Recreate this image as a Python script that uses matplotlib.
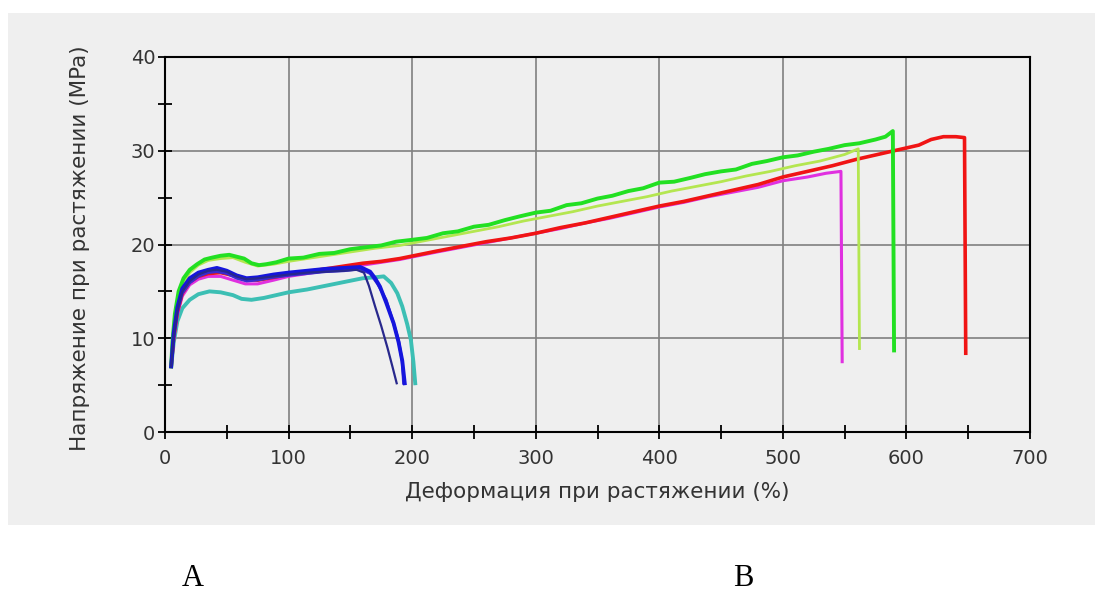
import matplotlib
matplotlib.use('Agg')
import matplotlib.pyplot as plt
from matplotlib.patches import Rectangle
from matplotlib.ticker import MultipleLocator

# strain (%) / stress (MPa) curves
green_x = [5, 6, 8, 11, 15, 20, 26, 32, 38, 45, 52, 58, 64, 70, 76, 82, 90, 100, 112, 125, 137, 150, 162, 175, 187, 200,
           212, 225, 237, 250, 262, 275, 287, 300, 312, 325, 337, 350, 362, 375, 387, 400, 412, 425, 437, 450, 462, 475,
           487, 500, 512, 525, 537, 550, 562, 575, 583, 589, 590]
green_y = [7.0, 9.6, 12.6, 15.0, 16.4, 17.3, 17.9, 18.4, 18.6, 18.8, 18.9, 18.7, 18.5, 18.0, 17.8, 17.9, 18.1, 18.5, 18.6,
           19.0, 19.1, 19.5, 19.7, 19.9, 20.3, 20.5, 20.7, 21.2, 21.4, 21.9, 22.1, 22.6, 23.0, 23.4, 23.6, 24.2, 24.4, 24.9,
           25.2, 25.7, 26.0, 26.6, 26.7, 27.1, 27.5, 27.8, 28.0, 28.6, 28.9, 29.3, 29.5, 29.9, 30.2, 30.6, 30.8, 31.2, 31.5,
           32.1, 8.7]

yg_x = [5, 7, 10, 14, 20, 27, 35, 45, 55, 65, 75, 88, 100, 115, 130, 150, 170, 190, 210, 230, 250, 270, 290, 310, 330,
        350, 370, 390, 410, 430, 450, 470, 490, 510, 530, 550, 561, 562]
yg_y = [7.0, 10.5, 13.5, 15.6, 17.0, 17.8, 18.3, 18.5, 18.6, 18.1, 17.7, 17.9, 18.2, 18.5, 18.8, 19.2, 19.6, 19.9, 20.4,
        20.9, 21.4, 21.9, 22.5, 23.0, 23.5, 24.1, 24.6, 25.1, 25.7, 26.2, 26.7, 27.3, 27.8, 28.4, 28.9, 29.6, 30.2, 8.9]

red_x = [5, 7, 10, 14, 20, 27, 35, 45, 55, 65, 75, 88, 100, 115, 130, 145, 160, 175, 190, 205, 220, 240, 260, 280, 300,
         320, 340, 360, 380, 400, 420, 440, 460, 480, 500, 520, 540, 560, 580, 600, 610, 620, 630, 640, 647, 648]
red_y = [7.0, 10.0, 12.8, 14.8, 16.0, 16.6, 16.9, 17.0, 16.7, 16.3, 16.2, 16.5, 16.8, 17.1, 17.4, 17.7, 18.0, 18.2, 18.5,
         18.9, 19.3, 19.8, 20.3, 20.7, 21.2, 21.8, 22.3, 22.9, 23.5, 24.1, 24.6, 25.2, 25.8, 26.4, 27.2, 27.8, 28.4, 29.1,
         29.7, 30.3, 30.6, 31.2, 31.5, 31.5, 31.4, 8.4]

mag_x = [5, 7, 10, 14, 20, 27, 35, 45, 55, 65, 75, 88, 100, 115, 130, 145, 160, 175, 190, 205, 220, 240, 260, 280, 300,
         320, 340, 360, 380, 400, 420, 440, 460, 480, 500, 520, 535, 547, 548]
mag_y = [7.0, 9.8, 12.5, 14.5, 15.7, 16.3, 16.6, 16.6, 16.2, 15.8, 15.8, 16.2, 16.6, 16.9, 17.2, 17.5, 17.8, 18.1, 18.4,
         18.8, 19.2, 19.7, 20.2, 20.7, 21.2, 21.7, 22.3, 22.8, 23.4, 24.0, 24.5, 25.1, 25.6, 26.1, 26.8, 27.2, 27.6, 27.8,
         7.5]

navy_x = [5, 7, 10, 14, 20, 27, 35, 42, 50, 58, 66, 75, 88, 100, 115, 130, 145, 155, 161, 165, 170, 175, 180, 184, 187.5]
navy_y = [7.0, 10.2, 13.0, 15.0, 16.1, 16.8, 17.2, 17.3, 17.1, 16.6, 16.3, 16.4, 16.6, 16.8, 17.0, 17.1, 17.2, 17.3, 17.0,
          15.6, 13.4, 11.3, 9.0, 7.0, 5.2]

blue_x = [5, 7, 10, 14, 20, 27, 35, 42, 50, 58, 66, 75, 88, 100, 115, 130, 145, 158, 166, 170, 174, 179, 185, 189, 192, 194]
blue_y = [7.0, 10.5, 13.3, 15.3, 16.4, 17.0, 17.3, 17.5, 17.2, 16.7, 16.4, 16.5, 16.8, 17.0, 17.2, 17.4, 17.5, 17.6, 17.1,
          16.4, 15.5, 13.8, 11.6, 9.6, 7.6, 5.2]

violet_x = [5, 7, 10, 14, 20, 27, 35, 42, 50, 58, 66, 75, 88, 100, 115, 130, 145, 158, 166, 172, 179, 184, 189, 192, 193]
violet_y = [7.0, 10.0, 12.8, 14.8, 15.9, 16.6, 17.0, 17.1, 16.9, 16.4, 16.1, 16.2, 16.5, 16.7, 16.9, 17.1, 17.2, 17.4, 16.9,
            15.8, 14.1, 12.0, 9.8, 7.5, 5.2]

teal_x = [5, 7, 10, 14, 20, 27, 36, 45, 55, 62, 70, 80, 90, 100, 115, 130, 145, 160, 170, 177, 183, 188, 192, 196, 199, 201,
          202.5]
teal_y = [7.0, 9.5, 11.8, 13.2, 14.1, 14.7, 15.0, 14.9, 14.6, 14.2, 14.1, 14.3, 14.6, 14.9, 15.2, 15.6, 16.0, 16.4, 16.5,
          16.6, 15.9, 14.8, 13.4, 11.5, 9.8, 7.5, 5.2]

plt.rcParams['font.family'] = ['DejaVu Sans']

fig = plt.figure(figsize=(10.95, 5.93), dpi=100)
fig.patch.set_facecolor('white')
# grey panel behind the chart
fig.patches.append(Rectangle((8 / 1095, 1 - 525 / 593), 1 - 8 / 1095, (525 - 13) / 593,
                             transform=fig.transFigure, facecolor='#efefef', edgecolor='none', zorder=-10))

ax = fig.add_axes([165 / 1095, 1 - 432 / 593, (1030 - 165) / 1095, (432 - 57) / 593])
ax.set_facecolor('#efefef')

ax.plot(teal_x, teal_y, color='#3cbfb4', lw=2.8)
ax.plot(mag_x, mag_y, color='#e030e0', lw=2.2)
ax.plot(red_x, red_y, color='#f01414', lw=2.6)
ax.plot(yg_x, yg_y, color='#b4e650', lw=2.0)
ax.plot(green_x, green_y, color='#22e022', lw=2.8)
ax.plot(violet_x, violet_y, color='#3a2ad0', lw=2.0)
ax.plot(blue_x, blue_y, color='#1515dd', lw=2.8)
ax.plot(navy_x, navy_y, color='#28288c', lw=1.6)

ax.set_xlim(0, 700)
ax.set_ylim(0, 40)
ax.xaxis.set_major_locator(MultipleLocator(100))
ax.xaxis.set_minor_locator(MultipleLocator(50))
ax.yaxis.set_major_locator(MultipleLocator(10))
ax.yaxis.set_minor_locator(MultipleLocator(5))
ax.grid(True, which='major', color='#808080', lw=1.2)
ax.set_axisbelow(True)
for s in ax.spines.values():
    s.set_color('black')
    s.set_linewidth(1.5)
ax.tick_params(which='both', direction='inout', length=10, width=1.3, color='black',
               labelsize=14, labelcolor='#333333')
ax.tick_params(axis='x', pad=7)
ax.tick_params(axis='y', pad=2)

ax.set_xlabel('Деформация при растяжении (%)', fontsize=15.5, color='#333333')
ax.set_ylabel('Напряжение при растяжении (MPa)', fontsize=15.5, color='#333333')
ax.xaxis.set_label_coords(0.5, (432 - 482) / 375)
ax.yaxis.set_label_coords((90 - 165) / 865, 0.49)

fig.text(193 / 1095, 1 - 579 / 593, 'A', fontsize=22, family='Liberation Serif', ha='center', va='center')
fig.text(743 / 1095, 1 - 579 / 593, 'B', fontsize=22, family='Liberation Serif', ha='center', va='center')

fig.savefig('out.png', dpi=100)
